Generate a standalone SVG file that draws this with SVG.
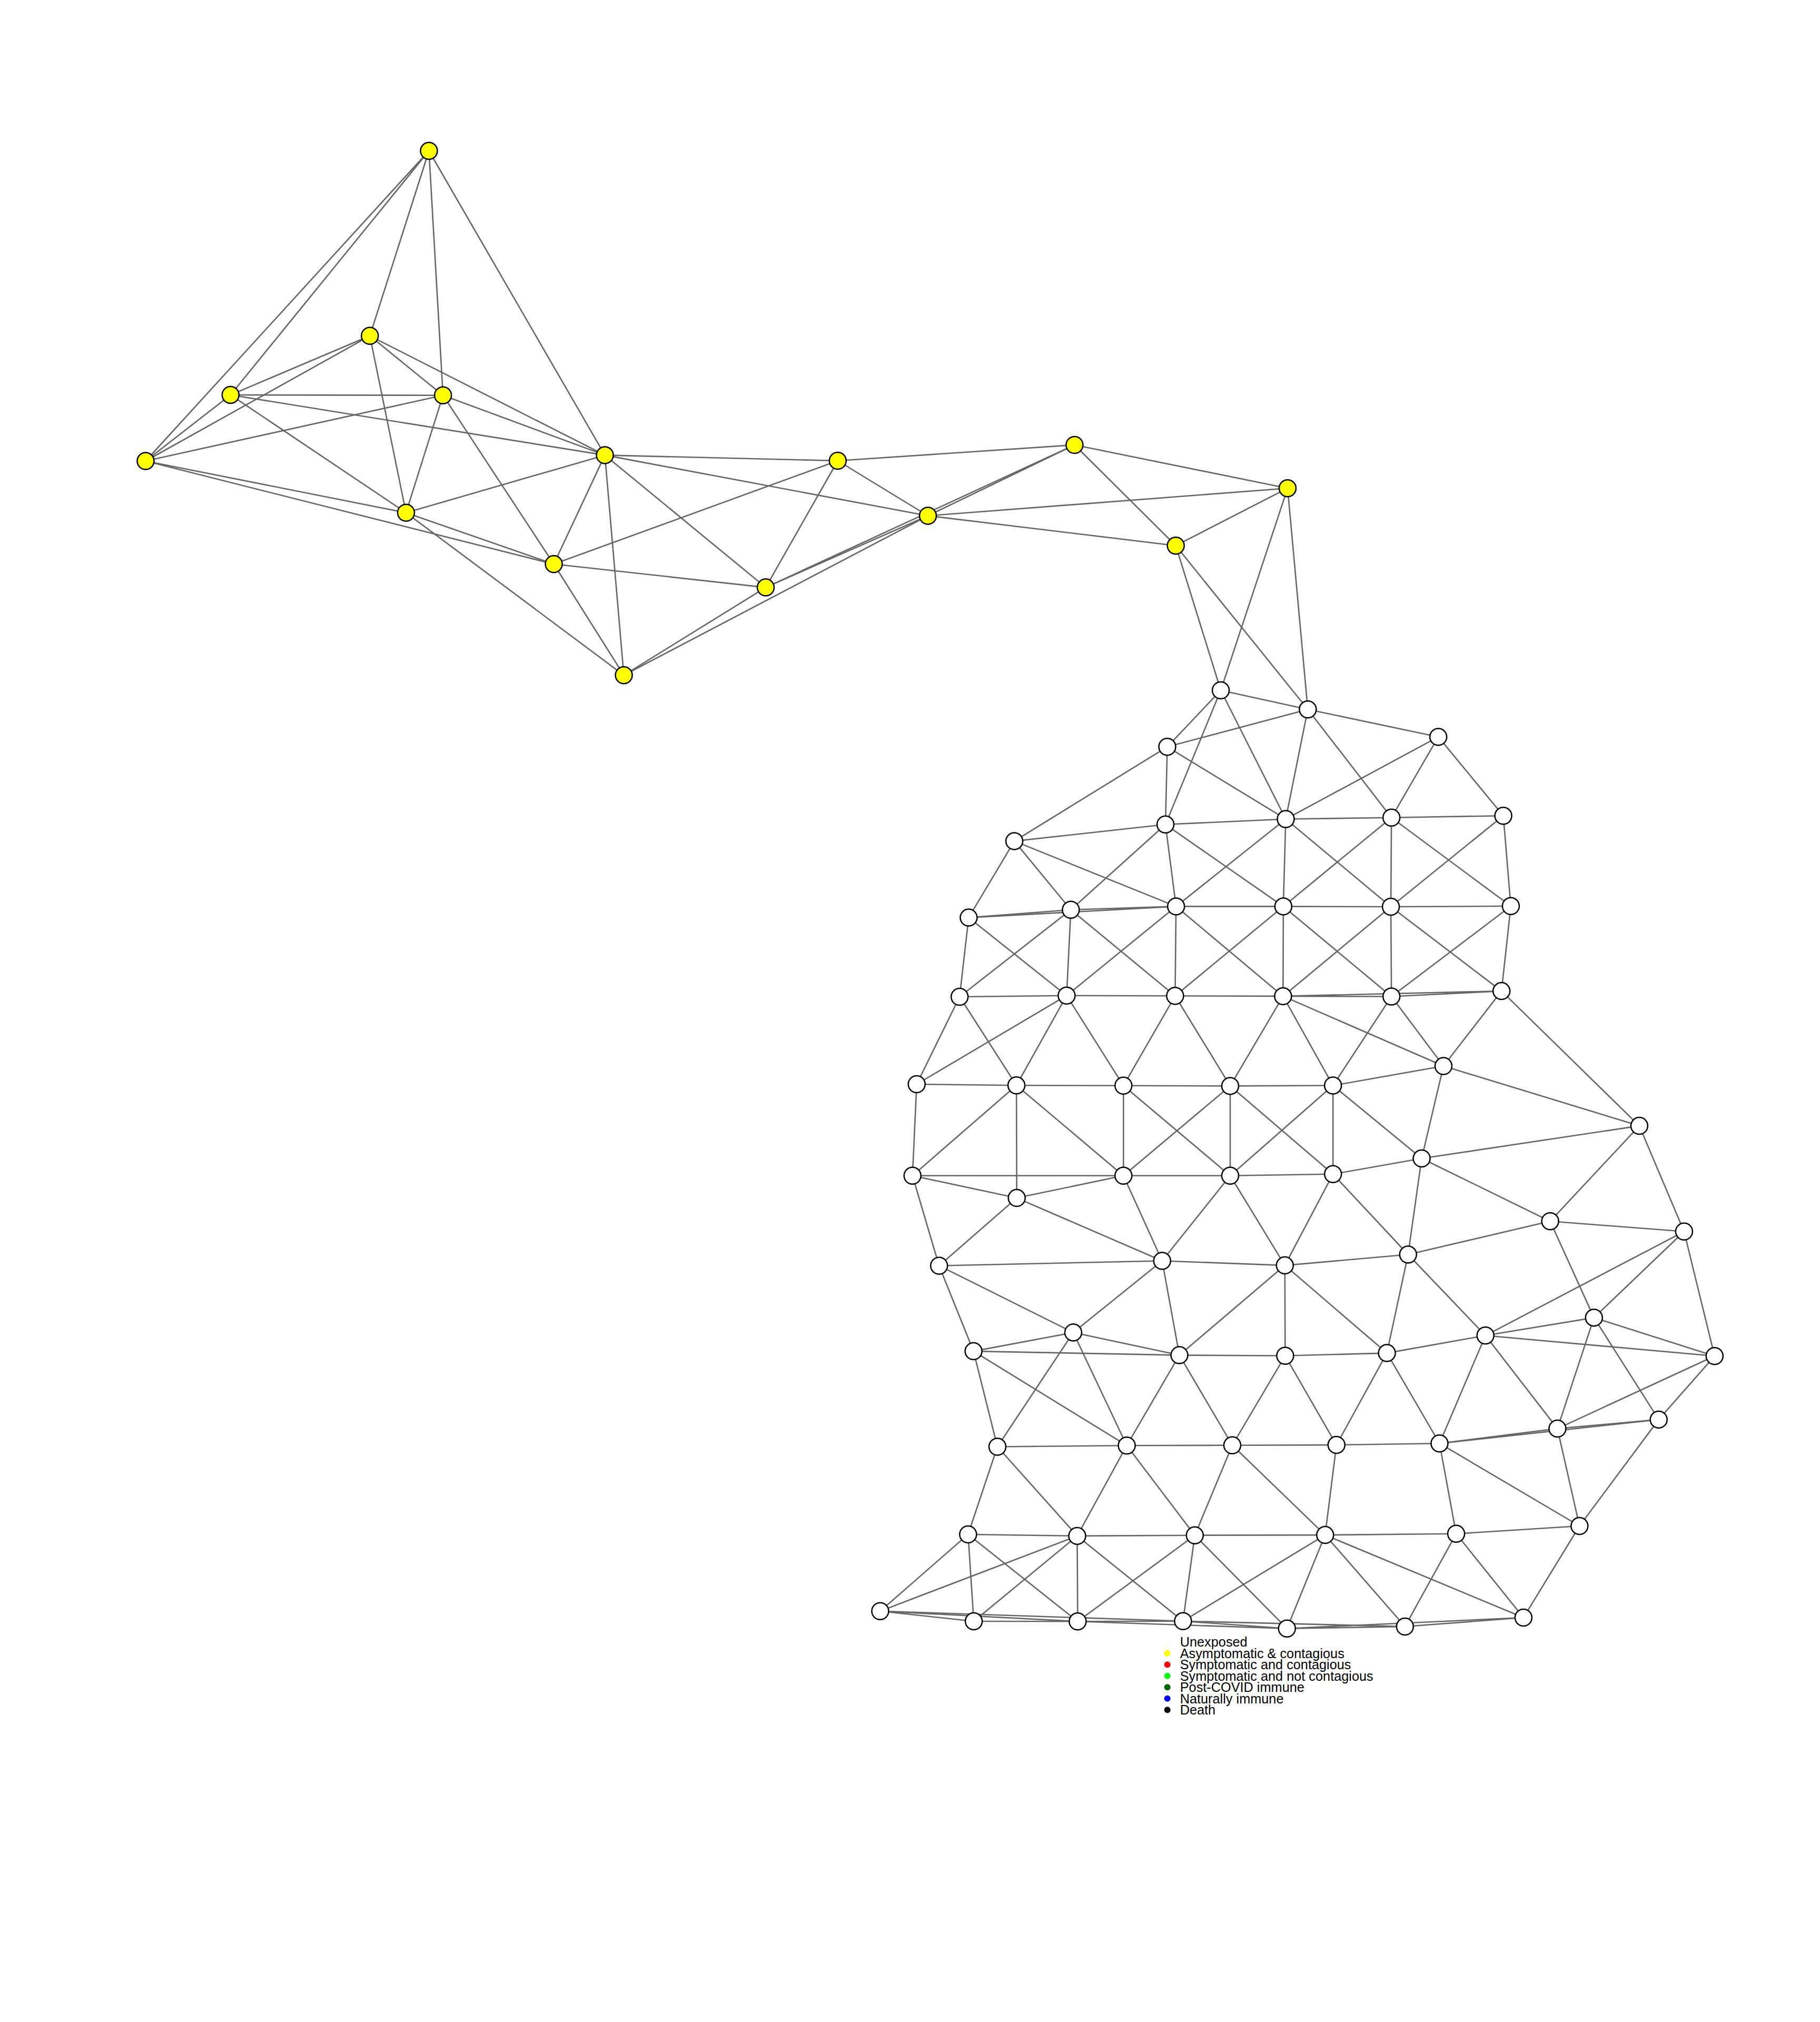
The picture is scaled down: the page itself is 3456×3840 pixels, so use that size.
<svg xmlns="http://www.w3.org/2000/svg" width="3456" height="3840" viewBox="0 0 3456 3840">
<style>
.e line{stroke:#666666;stroke-width:2.6;fill:none}
.n circle{stroke:#000000;stroke-width:2.5}
.y circle{fill:#ffff00}
.w circle{fill:#ffffff}
.t{font-family:"Liberation Sans",Arial,sans-serif;font-size:25.3px;fill:#000000}
</style>
<rect width="3456" height="3840" fill="#ffffff"/>
<g id="connectors" class="e">
<line x1="814.5" y1="286.5" x2="276.5" y2="875.5"/>
<line x1="814.5" y1="286.5" x2="437.8" y2="750"/>
<line x1="814.5" y1="286.5" x2="702.3" y2="637.8"/>
<line x1="814.5" y1="286.5" x2="841.2" y2="750.8"/>
<line x1="814.5" y1="286.5" x2="1148.6" y2="864.4"/>
<line x1="702.3" y1="637.8" x2="437.8" y2="750"/>
<line x1="702.3" y1="637.8" x2="276.5" y2="875.5"/>
<line x1="702.3" y1="637.8" x2="841.2" y2="750.8"/>
<line x1="702.3" y1="637.8" x2="771" y2="973.7"/>
<line x1="702.3" y1="637.8" x2="1148.6" y2="864.4"/>
<line x1="437.8" y1="750" x2="276.5" y2="875.5"/>
<line x1="437.8" y1="750" x2="841.2" y2="750.8"/>
<line x1="437.8" y1="750" x2="1148.6" y2="864.4"/>
<line x1="437.8" y1="750" x2="771" y2="973.7"/>
<line x1="841.2" y1="750.8" x2="276.5" y2="875.5"/>
<line x1="841.2" y1="750.8" x2="771" y2="973.7"/>
<line x1="841.2" y1="750.8" x2="1148.6" y2="864.4"/>
<line x1="841.2" y1="750.8" x2="1051.6" y2="1071.3"/>
<line x1="276.5" y1="875.5" x2="771" y2="973.7"/>
<line x1="276.5" y1="875.5" x2="1051.6" y2="1071.3"/>
<line x1="771" y1="973.7" x2="1148.6" y2="864.4"/>
<line x1="771" y1="973.7" x2="1051.6" y2="1071.3"/>
<line x1="771" y1="973.7" x2="1184.6" y2="1282.3"/>
<line x1="1148.6" y1="864.4" x2="1051.6" y2="1071.3"/>
<line x1="1148.6" y1="864.4" x2="1184.6" y2="1282.3"/>
<line x1="1148.6" y1="864.4" x2="1590.8" y2="875"/>
<line x1="1148.6" y1="864.4" x2="1762" y2="979.5"/>
<line x1="1148.6" y1="864.4" x2="1454" y2="1115.6"/>
<line x1="1051.6" y1="1071.3" x2="1184.6" y2="1282.3"/>
<line x1="1051.6" y1="1071.3" x2="1590.8" y2="875"/>
<line x1="1051.6" y1="1071.3" x2="1454" y2="1115.6"/>
<line x1="1184.6" y1="1282.3" x2="1454" y2="1115.6"/>
<line x1="1184.6" y1="1282.3" x2="1762" y2="979.5"/>
<line x1="1590.8" y1="875" x2="1762" y2="979.5"/>
<line x1="1590.8" y1="875" x2="1454" y2="1115.6"/>
<line x1="1590.8" y1="875" x2="2040.4" y2="845"/>
<line x1="2040.4" y1="845" x2="2445" y2="927.2"/>
<line x1="2040.4" y1="845" x2="2232.7" y2="1036.2"/>
<line x1="2040.4" y1="845" x2="1762" y2="979.5"/>
<line x1="2040.4" y1="845" x2="1454" y2="1115.6"/>
<line x1="1454" y1="1115.6" x2="1762" y2="979.5"/>
<line x1="2445" y1="927.2" x2="1762" y2="979.5"/>
<line x1="2445" y1="927.2" x2="2232.7" y2="1036.2"/>
<line x1="2445" y1="927.2" x2="2318.1" y2="1311"/>
<line x1="2445" y1="927.2" x2="2483.4" y2="1347.2"/>
<line x1="1762" y1="979.5" x2="2232.7" y2="1036.2"/>
<line x1="2232.7" y1="1036.2" x2="2318.1" y2="1311"/>
<line x1="2232.7" y1="1036.2" x2="2483.4" y2="1347.2"/>
<line x1="2318.1" y1="1311" x2="2483.4" y2="1347.2"/>
<line x1="2318.1" y1="1311" x2="2216.5" y2="1418.3"/>
<line x1="2318.1" y1="1311" x2="2213.1" y2="1565.8"/>
<line x1="2318.1" y1="1311" x2="2441.5" y2="1555.5"/>
<line x1="2483.4" y1="1347.2" x2="2216.5" y2="1418.3"/>
<line x1="2483.4" y1="1347.2" x2="2441.5" y2="1555.5"/>
<line x1="2483.4" y1="1347.2" x2="2642.2" y2="1552.7"/>
<line x1="2483.4" y1="1347.2" x2="2731.2" y2="1399.4"/>
<line x1="2216.5" y1="1418.3" x2="1926.1" y2="1597.4"/>
<line x1="2216.5" y1="1418.3" x2="2213.1" y2="1565.8"/>
<line x1="2216.5" y1="1418.3" x2="2441.5" y2="1555.5"/>
<line x1="2731.2" y1="1399.4" x2="2441.5" y2="1555.5"/>
<line x1="2731.2" y1="1399.4" x2="2642.2" y2="1552.7"/>
<line x1="2731.2" y1="1399.4" x2="2854.6" y2="1549.2"/>
<line x1="1926.1" y1="1597.4" x2="2213.1" y2="1565.8"/>
<line x1="1926.1" y1="1597.4" x2="1839.4" y2="1742.6"/>
<line x1="1926.1" y1="1597.4" x2="2033.4" y2="1727.7"/>
<line x1="1926.1" y1="1597.4" x2="2233.2" y2="1721.4"/>
<line x1="2213.1" y1="1565.8" x2="2441.5" y2="1555.5"/>
<line x1="2213.1" y1="1565.8" x2="2033.4" y2="1727.7"/>
<line x1="2213.1" y1="1565.8" x2="2233.2" y2="1721.4"/>
<line x1="2213.1" y1="1565.8" x2="2436.9" y2="1721.4"/>
<line x1="2441.5" y1="1555.5" x2="2642.2" y2="1552.7"/>
<line x1="2441.5" y1="1555.5" x2="2233.2" y2="1721.4"/>
<line x1="2441.5" y1="1555.5" x2="2436.9" y2="1721.4"/>
<line x1="2441.5" y1="1555.5" x2="2641.1" y2="1722"/>
<line x1="2642.2" y1="1552.7" x2="2854.6" y2="1549.2"/>
<line x1="2642.2" y1="1552.7" x2="2436.9" y2="1721.4"/>
<line x1="2642.2" y1="1552.7" x2="2641.1" y2="1722"/>
<line x1="2642.2" y1="1552.7" x2="2868.9" y2="1720.8"/>
<line x1="2854.6" y1="1549.2" x2="2868.9" y2="1720.8"/>
<line x1="2854.6" y1="1549.2" x2="2641.1" y2="1722"/>
<line x1="1839.4" y1="1742.6" x2="2033.4" y2="1727.7"/>
<line x1="1839.4" y1="1742.6" x2="2233.2" y2="1721.4"/>
<line x1="1839.4" y1="1742.6" x2="1822.2" y2="1893"/>
<line x1="1839.4" y1="1742.6" x2="2025.4" y2="1890.7"/>
<line x1="2033.4" y1="1727.7" x2="2233.2" y2="1721.4"/>
<line x1="2033.4" y1="1727.7" x2="1822.2" y2="1893"/>
<line x1="2033.4" y1="1727.7" x2="2025.4" y2="1890.7"/>
<line x1="2033.4" y1="1727.7" x2="2231.4" y2="1891.3"/>
<line x1="2233.2" y1="1721.4" x2="2436.9" y2="1721.4"/>
<line x1="2233.2" y1="1721.4" x2="2025.4" y2="1890.7"/>
<line x1="2233.2" y1="1721.4" x2="2231.4" y2="1891.3"/>
<line x1="2233.2" y1="1721.4" x2="2436.4" y2="1891.9"/>
<line x1="2436.9" y1="1721.4" x2="2641.1" y2="1722"/>
<line x1="2436.9" y1="1721.4" x2="2231.4" y2="1891.3"/>
<line x1="2436.9" y1="1721.4" x2="2436.4" y2="1891.9"/>
<line x1="2436.9" y1="1721.4" x2="2642.2" y2="1892.5"/>
<line x1="2641.1" y1="1722" x2="2868.9" y2="1720.8"/>
<line x1="2641.1" y1="1722" x2="2436.4" y2="1891.9"/>
<line x1="2641.1" y1="1722" x2="2642.2" y2="1892.5"/>
<line x1="2641.1" y1="1722" x2="2851.2" y2="1882.1"/>
<line x1="2868.9" y1="1720.8" x2="2642.2" y2="1892.5"/>
<line x1="2868.9" y1="1720.8" x2="2851.2" y2="1882.1"/>
<line x1="1822.2" y1="1893" x2="2025.4" y2="1890.7"/>
<line x1="1822.2" y1="1893" x2="1740.7" y2="2059"/>
<line x1="1822.2" y1="1893" x2="1930.1" y2="2061.2"/>
<line x1="2025.4" y1="1890.7" x2="2231.4" y2="1891.3"/>
<line x1="2025.4" y1="1890.7" x2="1740.7" y2="2059"/>
<line x1="2025.4" y1="1890.7" x2="1930.1" y2="2061.2"/>
<line x1="2025.4" y1="1890.7" x2="2133.3" y2="2061.8"/>
<line x1="2231.4" y1="1891.3" x2="2436.4" y2="1891.9"/>
<line x1="2231.4" y1="1891.3" x2="2133.3" y2="2061.8"/>
<line x1="2231.4" y1="1891.3" x2="2336" y2="2062.4"/>
<line x1="2436.4" y1="1891.9" x2="2642.2" y2="1892.5"/>
<line x1="2436.4" y1="1891.9" x2="2851.2" y2="1882.1"/>
<line x1="2436.4" y1="1891.9" x2="2336" y2="2062.4"/>
<line x1="2436.4" y1="1891.9" x2="2531.2" y2="2061.5"/>
<line x1="2436.4" y1="1891.9" x2="2741" y2="2024.5"/>
<line x1="2642.2" y1="1892.5" x2="2851.2" y2="1882.1"/>
<line x1="2642.2" y1="1892.5" x2="2531.2" y2="2061.5"/>
<line x1="2642.2" y1="1892.5" x2="2741" y2="2024.5"/>
<line x1="2851.2" y1="1882.1" x2="2741" y2="2024.5"/>
<line x1="2851.2" y1="1882.1" x2="3112.9" y2="2138.1"/>
<line x1="2741" y1="2024.5" x2="2531.2" y2="2061.5"/>
<line x1="2741" y1="2024.5" x2="3112.9" y2="2138.1"/>
<line x1="2741" y1="2024.5" x2="2699.6" y2="2200"/>
<line x1="1740.7" y1="2059" x2="1930.1" y2="2061.2"/>
<line x1="1740.7" y1="2059" x2="1732.7" y2="2232.7"/>
<line x1="1930.1" y1="2061.2" x2="2133.3" y2="2061.8"/>
<line x1="1930.1" y1="2061.2" x2="1732.7" y2="2232.7"/>
<line x1="1930.1" y1="2061.2" x2="1930.7" y2="2275.1"/>
<line x1="1930.1" y1="2061.2" x2="2133.3" y2="2232.7"/>
<line x1="2133.3" y1="2061.8" x2="2336" y2="2062.4"/>
<line x1="2133.3" y1="2061.8" x2="2133.3" y2="2232.7"/>
<line x1="2133.3" y1="2061.8" x2="2336" y2="2232.7"/>
<line x1="2336" y1="2062.4" x2="2531.2" y2="2061.5"/>
<line x1="2336" y1="2062.4" x2="2133.3" y2="2232.7"/>
<line x1="2336" y1="2062.4" x2="2336" y2="2232.7"/>
<line x1="2336" y1="2062.4" x2="2531.2" y2="2229.8"/>
<line x1="2531.2" y1="2061.5" x2="2336" y2="2232.7"/>
<line x1="2531.2" y1="2061.5" x2="2531.2" y2="2229.8"/>
<line x1="2531.2" y1="2061.5" x2="2699.6" y2="2200"/>
<line x1="3112.9" y1="2138.1" x2="2699.6" y2="2200"/>
<line x1="3112.9" y1="2138.1" x2="2943.6" y2="2319.3"/>
<line x1="3112.9" y1="2138.1" x2="3197.9" y2="2338.8"/>
<line x1="1732.7" y1="2232.7" x2="2133.3" y2="2232.7"/>
<line x1="1732.7" y1="2232.7" x2="1930.7" y2="2275.1"/>
<line x1="1732.7" y1="2232.7" x2="1783.2" y2="2403.7"/>
<line x1="1930.7" y1="2275.1" x2="2133.3" y2="2232.7"/>
<line x1="1930.7" y1="2275.1" x2="1783.2" y2="2403.7"/>
<line x1="1930.7" y1="2275.1" x2="2206.8" y2="2394.5"/>
<line x1="2133.3" y1="2232.7" x2="2336" y2="2232.7"/>
<line x1="2133.3" y1="2232.7" x2="2206.8" y2="2394.5"/>
<line x1="2336" y1="2232.7" x2="2531.2" y2="2229.8"/>
<line x1="2336" y1="2232.7" x2="2206.8" y2="2394.5"/>
<line x1="2336" y1="2232.7" x2="2439.8" y2="2403.1"/>
<line x1="2531.2" y1="2229.8" x2="2699.6" y2="2200"/>
<line x1="2531.2" y1="2229.8" x2="2439.8" y2="2403.1"/>
<line x1="2531.2" y1="2229.8" x2="2673.8" y2="2382.5"/>
<line x1="2699.6" y1="2200" x2="2673.8" y2="2382.5"/>
<line x1="2699.6" y1="2200" x2="2943.6" y2="2319.3"/>
<line x1="1783.2" y1="2403.7" x2="2206.8" y2="2394.5"/>
<line x1="1783.2" y1="2403.7" x2="1848.6" y2="2566.1"/>
<line x1="1783.2" y1="2403.7" x2="2038" y2="2530.6"/>
<line x1="2206.8" y1="2394.5" x2="2439.8" y2="2403.1"/>
<line x1="2206.8" y1="2394.5" x2="2038" y2="2530.6"/>
<line x1="2206.8" y1="2394.5" x2="2239.5" y2="2573.6"/>
<line x1="2439.8" y1="2403.1" x2="2673.8" y2="2382.5"/>
<line x1="2439.8" y1="2403.1" x2="2239.5" y2="2573.6"/>
<line x1="2439.8" y1="2403.1" x2="2440.4" y2="2574.8"/>
<line x1="2439.8" y1="2403.1" x2="2633.6" y2="2569.6"/>
<line x1="2673.8" y1="2382.5" x2="2943.6" y2="2319.3"/>
<line x1="2673.8" y1="2382.5" x2="2633.6" y2="2569.6"/>
<line x1="2673.8" y1="2382.5" x2="2820.7" y2="2536.3"/>
<line x1="2943.6" y1="2319.3" x2="3197.9" y2="2338.8"/>
<line x1="2943.6" y1="2319.3" x2="3026.8" y2="2502.4"/>
<line x1="3197.9" y1="2338.8" x2="2820.7" y2="2536.3"/>
<line x1="3197.9" y1="2338.8" x2="3026.8" y2="2502.4"/>
<line x1="3197.9" y1="2338.8" x2="3255.8" y2="2575.3"/>
<line x1="1848.6" y1="2566.1" x2="2038" y2="2530.6"/>
<line x1="1848.6" y1="2566.1" x2="2239.5" y2="2573.6"/>
<line x1="1848.6" y1="2566.1" x2="1894" y2="2747.5"/>
<line x1="1848.6" y1="2566.1" x2="2139.6" y2="2745.2"/>
<line x1="2038" y1="2530.6" x2="2239.5" y2="2573.6"/>
<line x1="2038" y1="2530.6" x2="1894" y2="2747.5"/>
<line x1="2038" y1="2530.6" x2="2139.6" y2="2745.2"/>
<line x1="2239.5" y1="2573.6" x2="2440.4" y2="2574.8"/>
<line x1="2239.5" y1="2573.6" x2="2139.6" y2="2745.2"/>
<line x1="2239.5" y1="2573.6" x2="2340" y2="2744.7"/>
<line x1="2440.4" y1="2574.8" x2="2633.6" y2="2569.6"/>
<line x1="2440.4" y1="2574.8" x2="2340" y2="2744.7"/>
<line x1="2440.4" y1="2574.8" x2="2537.8" y2="2744.1"/>
<line x1="2633.6" y1="2569.6" x2="2820.7" y2="2536.3"/>
<line x1="2633.6" y1="2569.6" x2="2537.8" y2="2744.1"/>
<line x1="2633.6" y1="2569.6" x2="2733.5" y2="2741.2"/>
<line x1="2820.7" y1="2536.3" x2="3026.8" y2="2502.4"/>
<line x1="2820.7" y1="2536.3" x2="3255.8" y2="2575.3"/>
<line x1="2820.7" y1="2536.3" x2="2733.5" y2="2741.2"/>
<line x1="2820.7" y1="2536.3" x2="2957.4" y2="2713.1"/>
<line x1="3026.8" y1="2502.4" x2="3255.8" y2="2575.3"/>
<line x1="3026.8" y1="2502.4" x2="2957.4" y2="2713.1"/>
<line x1="3026.8" y1="2502.4" x2="3149.7" y2="2695.9"/>
<line x1="3255.8" y1="2575.3" x2="2957.4" y2="2713.1"/>
<line x1="3255.8" y1="2575.3" x2="3149.7" y2="2695.9"/>
<line x1="1894" y1="2747.5" x2="2139.6" y2="2745.2"/>
<line x1="1894" y1="2747.5" x2="1838.3" y2="2914"/>
<line x1="1894" y1="2747.5" x2="2045.5" y2="2916.9"/>
<line x1="2139.6" y1="2745.2" x2="2340" y2="2744.7"/>
<line x1="2139.6" y1="2745.2" x2="2045.5" y2="2916.9"/>
<line x1="2139.6" y1="2745.2" x2="2268.8" y2="2915.7"/>
<line x1="2340" y1="2744.7" x2="2537.8" y2="2744.1"/>
<line x1="2340" y1="2744.7" x2="2268.8" y2="2915.7"/>
<line x1="2340" y1="2744.7" x2="2516.3" y2="2915.1"/>
<line x1="2537.8" y1="2744.1" x2="2733.5" y2="2741.2"/>
<line x1="2537.8" y1="2744.1" x2="2516.3" y2="2915.1"/>
<line x1="2733.5" y1="2741.2" x2="2957.4" y2="2713.1"/>
<line x1="2733.5" y1="2741.2" x2="3149.7" y2="2695.9"/>
<line x1="2733.5" y1="2741.2" x2="2765.1" y2="2912.8"/>
<line x1="2733.5" y1="2741.2" x2="2999.3" y2="2898"/>
<line x1="2957.4" y1="2713.1" x2="3149.7" y2="2695.9"/>
<line x1="2957.4" y1="2713.1" x2="2999.3" y2="2898"/>
<line x1="3149.7" y1="2695.9" x2="2999.3" y2="2898"/>
<line x1="1838.3" y1="2914" x2="2045.5" y2="2916.9"/>
<line x1="1838.3" y1="2914" x2="1671.4" y2="3059.7"/>
<line x1="1838.3" y1="2914" x2="1849.1" y2="3079"/>
<line x1="1838.3" y1="2914" x2="2046.4" y2="3079.3"/>
<line x1="2045.5" y1="2916.9" x2="2268.8" y2="2915.7"/>
<line x1="2045.5" y1="2916.9" x2="1671.4" y2="3059.7"/>
<line x1="2045.5" y1="2916.9" x2="1849.1" y2="3079"/>
<line x1="2045.5" y1="2916.9" x2="2046.4" y2="3079.3"/>
<line x1="2045.5" y1="2916.9" x2="2246.4" y2="3078.7"/>
<line x1="2268.8" y1="2915.7" x2="2516.3" y2="2915.1"/>
<line x1="2268.8" y1="2915.7" x2="2046.4" y2="3079.3"/>
<line x1="2268.8" y1="2915.7" x2="2246.4" y2="3078.7"/>
<line x1="2268.8" y1="2915.7" x2="2443.8" y2="3092.7"/>
<line x1="2516.3" y1="2915.1" x2="2765.1" y2="2912.8"/>
<line x1="2516.3" y1="2915.1" x2="2246.4" y2="3078.7"/>
<line x1="2516.3" y1="2915.1" x2="2443.8" y2="3092.7"/>
<line x1="2516.3" y1="2915.1" x2="2667.9" y2="3089"/>
<line x1="2516.3" y1="2915.1" x2="2892.9" y2="3072"/>
<line x1="2765.1" y1="2912.8" x2="2999.3" y2="2898"/>
<line x1="2765.1" y1="2912.8" x2="2667.9" y2="3089"/>
<line x1="2765.1" y1="2912.8" x2="2892.9" y2="3072"/>
<line x1="2999.3" y1="2898" x2="2892.9" y2="3072"/>
<line x1="1671.4" y1="3059.7" x2="1849.1" y2="3079"/>
<line x1="1671.4" y1="3059.7" x2="2046.4" y2="3079.3"/>
<line x1="1671.4" y1="3059.7" x2="2246.4" y2="3078.7"/>
<line x1="1849.1" y1="3079" x2="2046.4" y2="3079.3"/>
<line x1="2046.4" y1="3079.3" x2="2246.4" y2="3078.7"/>
<line x1="2046.4" y1="3079.3" x2="2443.8" y2="3092.7"/>
<line x1="2246.4" y1="3078.7" x2="2443.8" y2="3092.7"/>
<line x1="2246.4" y1="3078.7" x2="2667.9" y2="3089"/>
<line x1="2443.8" y1="3092.7" x2="2667.9" y2="3089"/>
<line x1="2443.8" y1="3092.7" x2="2892.9" y2="3072"/>
<line x1="2667.9" y1="3089" x2="2892.9" y2="3072"/>
</g>
<g id="nodes" class="n">
<g class="y">
<g id="y1"><circle cx="814.5" cy="286.5" r="16"/></g>
<g id="y2"><circle cx="702.3" cy="637.8" r="16"/></g>
<g id="y3"><circle cx="437.8" cy="750" r="16"/></g>
<g id="y4"><circle cx="841.2" cy="750.8" r="16"/></g>
<g id="y5"><circle cx="276.5" cy="875.5" r="16"/></g>
<g id="y6"><circle cx="771" cy="973.7" r="16"/></g>
<g id="y7"><circle cx="1148.6" cy="864.4" r="16"/></g>
<g id="y8"><circle cx="1051.6" cy="1071.3" r="16"/></g>
<g id="y9"><circle cx="1184.6" cy="1282.3" r="16"/></g>
<g id="y10"><circle cx="1590.8" cy="875" r="16"/></g>
<g id="y11"><circle cx="2040.4" cy="845" r="16"/></g>
<g id="y12"><circle cx="2445" cy="927.2" r="16"/></g>
<g id="y13"><circle cx="1762" cy="979.5" r="16"/></g>
<g id="y14"><circle cx="2232.7" cy="1036.2" r="16"/></g>
<g id="y15"><circle cx="1454" cy="1115.6" r="16"/></g>
</g>
<g class="w">
<g id="a"><circle cx="2318.1" cy="1311" r="16"/></g>
<g id="b"><circle cx="2483.4" cy="1347.2" r="16"/></g>
<g id="c"><circle cx="2216.5" cy="1418.3" r="16"/></g>
<g id="e"><circle cx="2731.2" cy="1399.4" r="16"/></g>
<g id="d1"><circle cx="1926.1" cy="1597.4" r="16"/></g>
<g id="d2"><circle cx="2213.1" cy="1565.8" r="16"/></g>
<g id="d3"><circle cx="2441.5" cy="1555.5" r="16"/></g>
<g id="d4"><circle cx="2642.2" cy="1552.7" r="16"/></g>
<g id="d5"><circle cx="2854.6" cy="1549.2" r="16"/></g>
<g id="f0"><circle cx="1839.4" cy="1742.6" r="16"/></g>
<g id="f1"><circle cx="2033.4" cy="1727.7" r="16"/></g>
<g id="f2"><circle cx="2233.2" cy="1721.4" r="16"/></g>
<g id="f3"><circle cx="2436.9" cy="1721.4" r="16"/></g>
<g id="f5"><circle cx="2641.1" cy="1722" r="16"/></g>
<g id="f6"><circle cx="2868.9" cy="1720.8" r="16"/></g>
<g id="g0"><circle cx="1822.2" cy="1893" r="16"/></g>
<g id="g1"><circle cx="2025.4" cy="1890.7" r="16"/></g>
<g id="g2"><circle cx="2231.4" cy="1891.3" r="16"/></g>
<g id="g3"><circle cx="2436.4" cy="1891.9" r="16"/></g>
<g id="g4"><circle cx="2642.2" cy="1892.5" r="16"/></g>
<g id="g5"><circle cx="2851.2" cy="1882.1" r="16"/></g>
<g id="h"><circle cx="2741" cy="2024.5" r="16"/></g>
<g id="k0"><circle cx="1740.7" cy="2059" r="16"/></g>
<g id="k1"><circle cx="1930.1" cy="2061.2" r="16"/></g>
<g id="k2"><circle cx="2133.3" cy="2061.8" r="16"/></g>
<g id="k3"><circle cx="2336" cy="2062.4" r="16"/></g>
<g id="k4"><circle cx="2531.2" cy="2061.5" r="16"/></g>
<g id="p"><circle cx="3112.9" cy="2138.1" r="16"/></g>
<g id="m0"><circle cx="1732.7" cy="2232.7" r="16"/></g>
<g id="m1"><circle cx="2133.3" cy="2232.7" r="16"/></g>
<g id="m2"><circle cx="2336" cy="2232.7" r="16"/></g>
<g id="m3"><circle cx="2531.2" cy="2229.8" r="16"/></g>
<g id="q"><circle cx="2699.6" cy="2200" r="16"/></g>
<g id="n"><circle cx="1930.7" cy="2275.1" r="16"/></g>
<g id="r0"><circle cx="1783.2" cy="2403.7" r="16"/></g>
<g id="r1"><circle cx="2206.8" cy="2394.5" r="16"/></g>
<g id="r2"><circle cx="2439.8" cy="2403.1" r="16"/></g>
<g id="r3"><circle cx="2673.8" cy="2382.5" r="16"/></g>
<g id="r4"><circle cx="2943.6" cy="2319.3" r="16"/></g>
<g id="r5"><circle cx="3197.9" cy="2338.8" r="16"/></g>
<g id="s0"><circle cx="1848.6" cy="2566.1" r="16"/></g>
<g id="s1"><circle cx="2038" cy="2530.6" r="16"/></g>
<g id="s2"><circle cx="2239.5" cy="2573.6" r="16"/></g>
<g id="s3"><circle cx="2440.4" cy="2574.8" r="16"/></g>
<g id="s4"><circle cx="2633.6" cy="2569.6" r="16"/></g>
<g id="s5"><circle cx="2820.7" cy="2536.3" r="16"/></g>
<g id="s6"><circle cx="3026.8" cy="2502.4" r="16"/></g>
<g id="s7"><circle cx="3255.8" cy="2575.3" r="16"/></g>
<g id="t0"><circle cx="1894" cy="2747.5" r="16"/></g>
<g id="t1"><circle cx="2139.6" cy="2745.2" r="16"/></g>
<g id="t2"><circle cx="2340" cy="2744.7" r="16"/></g>
<g id="t3"><circle cx="2537.8" cy="2744.1" r="16"/></g>
<g id="t4"><circle cx="2733.5" cy="2741.2" r="16"/></g>
<g id="t5"><circle cx="2957.4" cy="2713.1" r="16"/></g>
<g id="t6"><circle cx="3149.7" cy="2695.9" r="16"/></g>
<g id="u0"><circle cx="1838.3" cy="2914" r="16"/></g>
<g id="u1"><circle cx="2045.5" cy="2916.9" r="16"/></g>
<g id="u2"><circle cx="2268.8" cy="2915.7" r="16"/></g>
<g id="u3"><circle cx="2516.3" cy="2915.1" r="16"/></g>
<g id="u4"><circle cx="2765.1" cy="2912.8" r="16"/></g>
<g id="u5"><circle cx="2999.3" cy="2898" r="16"/></g>
<g id="v0"><circle cx="1671.4" cy="3059.7" r="16"/></g>
<g id="v1"><circle cx="1849.1" cy="3079" r="16"/></g>
<g id="v2"><circle cx="2046.4" cy="3079.3" r="16"/></g>
<g id="v3"><circle cx="2246.4" cy="3078.7" r="16"/></g>
<g id="v4"><circle cx="2443.8" cy="3092.7" r="16"/></g>
<g id="v5"><circle cx="2667.9" cy="3089" r="16"/></g>
<g id="v6"><circle cx="2892.9" cy="3072" r="16"/></g>
</g>
</g>
<g id="legend">
<circle cx="2216.7" cy="3139.7" r="6" fill="#ffff00"/>
<circle cx="2216.7" cy="3161.2" r="6" fill="#ff0000"/>
<circle cx="2216.7" cy="3182.7" r="6" fill="#00ff00"/>
<circle cx="2216.7" cy="3204.2" r="6" fill="#006400"/>
<circle cx="2216.7" cy="3225.7" r="6" fill="#0000ff"/>
<circle cx="2216.7" cy="3247.2" r="6" fill="#000000"/>
<text class="t" x="2240.7" y="3127.3">Unexposed</text>
<text class="t" x="2240.7" y="3148.8">Asymptomatic &amp; contagious</text>
<text class="t" x="2240.7" y="3170.3">Symptomatic and contagious</text>
<text class="t" x="2240.7" y="3191.8">Symptomatic and not contagious</text>
<text class="t" x="2240.7" y="3213.3">Post-COVID immune</text>
<text class="t" x="2240.7" y="3234.8">Naturally immune</text>
<text class="t" x="2240.7" y="3256.3">Death</text>
</g>
</svg>
